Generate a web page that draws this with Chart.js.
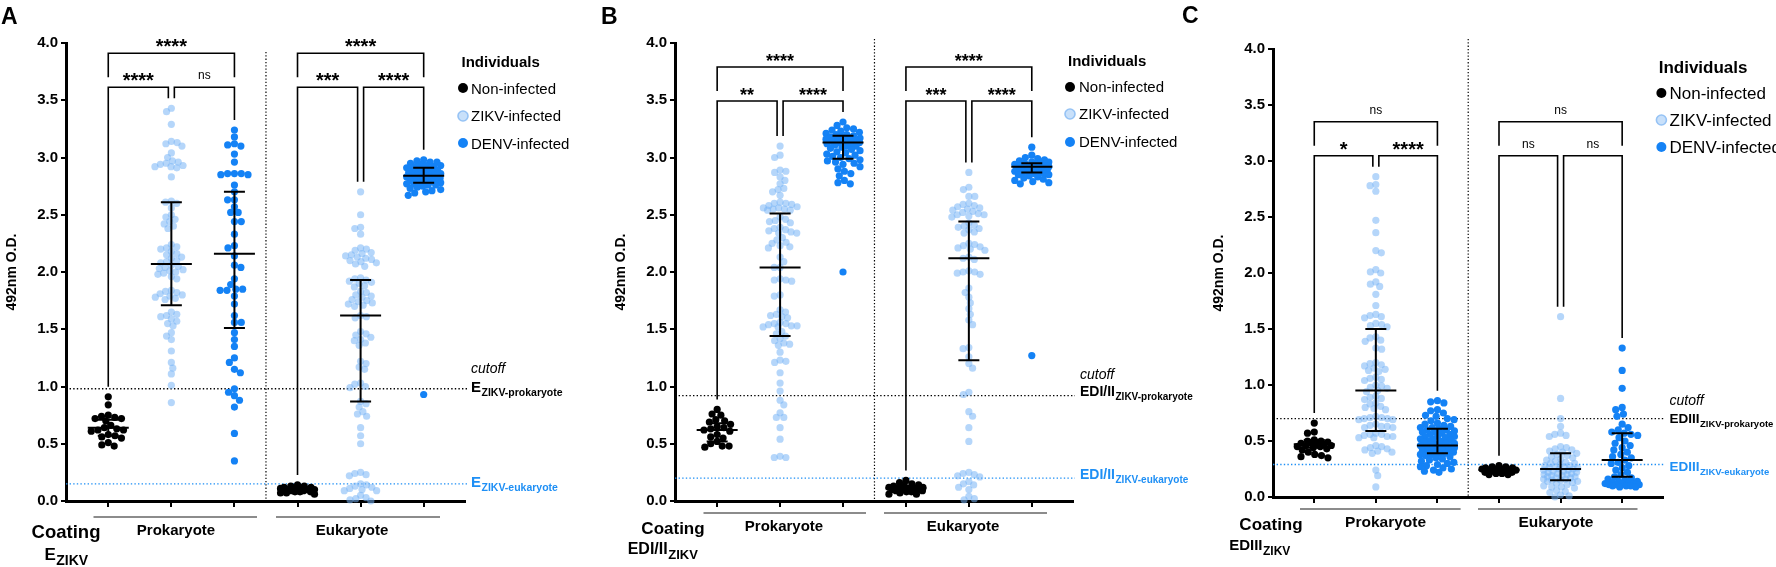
<!DOCTYPE html>
<html><head><meta charset="utf-8">
<script src="https://cdn.jsdelivr.net/npm/chart.js@4.4.1/dist/chart.umd.min.js"></script>
<style>
html,body{margin:0;padding:0;background:#fff;width:1776px;height:567px;overflow:hidden;position:relative}
canvas{position:absolute;top:0}
</style></head><body>
<canvas id="cA" width="600" height="567" style="left:0px"></canvas>
<canvas id="cB" width="610" height="567" style="left:590px"></canvas>
<canvas id="cC" width="600" height="567" style="left:1176px"></canvas>
<script>
// ---------------- DATA ----------------
const groupLabels = ['Non-infected','ZIKV-infected','DENV-infected'];
const coatingLabels = ['Prokaryote','Eukaryote'];
const yTickValues = [0,0.5,1,1.5,2,2.5,3,3.5,4];
const yAxisTitle = '492nm O.D.';

// Panel A (E ZIKV)
const A_prok_non = [0.91,0.84,0.75,0.74,0.73,0.72,0.72,0.70,0.66,0.64,0.63,0.62,0.62,0.61,0.58,0.57,0.56,0.55,0.51,0.49,0.48];
const A_prok_zikv = [3.43,3.40,3.29,3.14,3.13,3.12,3.10,3.04,3.00,2.97,2.96,2.95,2.94,2.93,2.92,2.92,2.91,2.83,
 2.62,2.61,2.60,2.56,2.50,2.48,2.46,2.44,2.42,2.40,2.38,
 2.24,2.22,2.21,2.20,2.18,2.16,2.15,2.13,2.12,2.10,2.09,2.08,2.06,2.05,2.04,2.03,2.02,2.01,2.00,1.99,1.98,1.96,1.94,
 1.84,1.83,1.82,1.81,1.80,1.79,1.78,1.77,1.76,
 1.65,1.63,1.62,1.61,1.59,1.57,1.55,1.53,
 1.47,1.44,1.41,1.31,1.21,1.16,1.11,1.01,0.86];
const A_prok_denv = [3.24,3.18,3.12,3.11,3.10,3.03,2.96,2.86,2.86,2.85,2.86,2.85,2.76,2.70,2.63,2.63,2.57,2.52,2.52,2.44,2.44,2.33,2.23,2.21,2.14,2.06,2.04,1.94,1.89,1.85,1.85,1.84,1.84,1.79,1.72,1.62,1.56,1.56,1.47,1.41,1.35,1.25,1.21,1.15,1.12,0.98,0.95,0.92,0.88,0.82,0.59,0.35];
const A_euk_non = [0.14,0.13,0.13,0.12,0.12,0.11,0.11,0.11,0.10,0.10,0.10,0.10,0.09,0.09,0.09,0.08,0.08,0.08,0.07,0.07,0.06];
const A_euk_zikv = [2.70,2.50,2.39,2.38,2.33,2.21,2.20,2.19,2.17,2.16,2.15,2.14,2.13,2.12,2.11,2.10,2.09,2.08,2.07,2.05,
 1.95,1.94,1.93,1.92,1.91,1.90,1.88,1.87,1.83,1.82,1.80,1.79,1.78,1.76,1.75,1.74,1.73,1.72,1.71,1.70,1.62,1.61,1.60,
 1.48,1.46,1.45,1.43,1.41,1.40,1.38,1.36,1.22,1.20,1.17,1.15,1.03,1.02,1.00,0.99,0.87,0.85,0.82,0.78,0.76,0.74,0.64,0.57,0.50,
 0.25,0.24,0.23,0.22,0.15,0.14,0.13,0.12,0.11,0.10,0.09,0.09,0.05,0.03,0.02,0.01,0.00];
const A_euk_denv = [2.98,2.97,2.96,2.96,2.95,2.94,2.93,2.93,2.92,2.92,2.91,2.91,2.90,2.90,2.89,2.89,2.88,2.88,2.87,2.87,2.86,2.86,2.85,2.85,2.85,2.84,2.84,2.83,2.83,2.82,2.82,2.81,2.81,2.80,2.80,2.79,2.79,2.78,2.78,2.77,2.77,2.76,2.76,2.75,2.74,2.73,2.72,2.71,2.70,2.69,2.67,0.93];
const A_mean  = [0.64,2.07,2.16,0.10,1.62,2.84];
const A_upper = [0.71,2.61,2.70,0.11,1.93,2.91];
const A_lower = [0.57,1.71,1.51,0.09,0.87,2.78];
const A_cutoff = [0.98,0.15];
const A_sig = ['****','****','ns','****','***','****'];

// Panel B (EDI/II ZIKV)
const B_prok_non = [0.80,0.76,0.75,0.71,0.70,0.69,0.67,0.65,0.64,0.63,0.62,0.61,0.58,0.56,0.55,0.52,0.50,0.48,0.48,0.47];
const B_prok_zikv = [3.10,3.02,3.00,2.89,2.88,2.87,2.83,2.80,2.77,2.73,2.72,2.70,2.67,2.61,2.60,2.60,2.59,2.58,2.57,2.56,2.56,2.55,2.55,2.54,2.54,
 2.48,2.46,2.45,2.44,2.43,2.39,2.38,2.37,2.36,2.35,2.34,2.34,2.30,2.28,2.26,2.25,2.23,2.22,2.21,2.13,2.09,2.04,2.04,
 1.94,1.93,1.93,1.92,1.80,1.79,1.67,1.65,1.63,1.62,1.61,1.60,1.56,1.55,1.55,1.54,1.53,1.53,1.52,1.52,1.48,1.46,1.44,1.42,1.40,1.38,1.37,1.36,
 1.30,1.23,1.22,1.21,1.12,1.03,0.96,0.88,0.84,0.77,0.73,0.73,0.64,0.54,0.39,0.38,0.38];
const B_prok_denv = [3.31,3.28,3.26,3.25,3.24,3.23,3.22,3.21,3.20,3.20,3.19,3.18,3.18,3.17,3.16,3.16,3.15,3.15,3.14,3.14,3.13,3.13,3.12,3.12,3.11,3.10,3.10,3.09,3.08,3.07,3.06,3.05,3.04,3.03,3.02,3.01,3.00,2.99,2.98,2.97,2.96,2.95,2.94,2.92,2.90,2.88,2.86,2.84,2.80,2.78,2.77,2.00];
const B_euk_non = [0.18,0.16,0.15,0.14,0.13,0.13,0.12,0.12,0.11,0.11,0.11,0.10,0.10,0.10,0.09,0.09,0.08,0.08,0.07,0.06,0.06];
const B_euk_zikv = [2.87,2.74,2.72,2.66,2.66,2.60,2.59,2.58,2.57,2.56,2.55,2.54,2.53,2.52,2.51,2.50,2.50,2.49,2.48,2.43,2.41,2.40,2.39,2.38,2.37,2.35,2.34,
 2.25,2.24,2.23,2.22,2.21,2.20,2.19,2.13,2.12,2.11,2.01,2.00,2.00,1.99,1.98,1.86,1.82,1.78,1.73,1.68,1.63,1.58,1.54,1.34,1.33,1.26,1.20,1.16,
 0.95,0.93,0.78,0.74,0.64,0.52,0.25,0.24,0.23,0.22,0.21,0.17,0.15,0.14,0.12,0.10,0.04,0.02,0.01];
const B_euk_denv = [3.09,3.02,3.00,2.99,2.98,2.97,2.96,2.96,2.95,2.95,2.94,2.94,2.93,2.93,2.92,2.92,2.92,2.91,2.91,2.91,2.90,2.90,2.90,2.89,2.89,2.88,2.88,2.87,2.87,2.86,2.86,2.85,2.85,2.84,2.83,2.82,2.81,2.80,2.79,2.78,2.77,1.27];
const B_mean  = [0.62,2.04,3.13,0.11,2.12,2.92];
const B_upper = [0.68,2.51,3.19,0.12,2.44,2.95];
const B_lower = [0.52,1.44,2.99,0.10,1.23,2.87];
const B_cutoff = [0.92,0.20];
const B_sig = ['****','**','****','****','***','****'];

// Panel C (EDIII ZIKV)
const C_prok_non = [0.66,0.58,0.57,0.51,0.50,0.50,0.49,0.48,0.48,0.47,0.47,0.46,0.46,0.45,0.45,0.44,0.43,0.42,0.40,0.38,0.37,0.36,0.35];
const C_prok_zikv = [2.86,2.79,2.78,2.73,2.47,2.36,2.20,2.18,2.03,2.01,2.00,1.92,1.90,1.88,1.81,1.71,1.63,1.62,1.61,1.60,1.55,1.54,1.53,1.52,
 1.43,1.42,1.40,1.39,1.33,1.32,1.20,1.19,1.18,1.17,1.15,1.14,1.13,1.12,1.07,1.06,1.05,1.04,1.00,0.99,0.98,0.97,0.95,0.94,
 0.90,0.89,0.88,0.87,0.84,0.83,0.81,0.80,0.79,0.78,0.72,0.71,0.71,0.70,0.70,0.69,0.69,0.65,0.64,0.63,0.63,0.62,0.62,
 0.57,0.56,0.56,0.55,0.54,0.54,0.53,0.53,0.46,0.45,0.44,0.43,0.42,0.41,0.40,0.39,0.24,0.19,0.09];
const C_prok_denv = [0.86,0.85,0.84,0.78,0.77,0.75,0.73,0.72,0.70,0.69,0.68,0.66,0.65,0.64,0.63,0.62,0.62,0.61,0.60,0.60,0.59,0.58,0.58,0.57,0.56,0.56,0.55,0.54,0.54,0.53,0.52,0.52,0.51,0.50,0.50,0.49,0.48,0.48,0.47,0.47,0.46,0.46,0.45,0.45,0.44,0.44,0.43,0.43,0.42,0.42,0.41,0.41,0.40,0.40,0.39,0.39,0.38,0.38,0.37,0.36,0.35,0.34,0.33,0.32,0.31,0.30,0.29,0.28,0.27,0.26,0.25,0.24,0.23,0.22];
const C_euk_non = [0.28,0.27,0.27,0.26,0.26,0.25,0.25,0.25,0.24,0.24,0.24,0.23,0.23,0.23,0.22,0.22,0.21,0.21,0.20,0.20];
const C_euk_zikv = [1.61,0.88,0.70,0.63,0.57,0.56,0.55,0.54,0.45,0.44,0.43,0.42,0.41,0.40,0.39,0.38,0.37,0.36,0.35,0.34,0.33,0.32,0.31,0.30,0.30,0.29,0.28,0.28,0.27,0.27,0.26,0.26,0.25,0.25,0.24,0.24,0.23,0.23,0.22,0.22,0.21,0.21,0.20,0.20,0.19,0.19,0.18,0.18,0.17,0.17,0.16,0.16,0.15,0.15,0.14,0.14,0.13,0.12,0.11,0.10,0.09,0.09,0.08,0.06,0.05,0.04,0.02,0.01,0.00];
const C_euk_denv = [1.33,1.13,0.97,0.80,0.78,0.74,0.72,0.65,0.62,0.60,0.58,0.57,0.56,0.55,0.53,0.50,0.48,0.46,0.44,0.42,0.40,0.38,0.36,0.35,0.33,0.31,0.30,0.28,0.26,0.24,0.22,0.20,0.18,0.17,0.16,0.15,0.14,0.14,0.13,0.13,0.12,0.12,0.12,0.11,0.11,0.11,0.10,0.10,0.10,0.09,0.09];
const C_mean  = [0.47,0.95,0.46,0.24,0.25,0.33];
const C_upper = [0.51,1.50,0.61,0.25,0.39,0.57];
const C_lower = [0.44,0.59,0.39,0.23,0.15,0.18];
const C_cutoff = [0.70,0.29];
const C_sig = ['ns','*','****','ns','ns','ns'];

// ---------------- STYLE / LAYOUT ----------------
const FONT = "'Liberation Sans', Arial, Helvetica, sans-serif";
const SERIES_COLORS = ['#000000','rgba(120,180,245,0.55)','rgb(20,130,245)'];
const SPACING = [0.95,0.82,0.95];
const BLUE_LINE = '#1e8ff5';
const DOT_R = 3.6;

const PANELS = [
 {id:'cA', left:0, width:600, area:{l:66,r:465,t:43,b:501}, sepTop:52, letter:{t:'A',x:1,y:24},
  groups:[A_prok_non,A_prok_zikv,A_prok_denv,A_euk_non,A_euk_zikv,A_euk_denv],
  mean:A_mean, upper:A_upper, lower:A_lower, cutoff:A_cutoff, sig:A_sig,
  legend:{size:15, tx0:461.5, ty0:67, mx:463, my:[88,116,143], tx:471, ty:[94,121,149]},
  cut:{x:471, cy:373, main:'E', size:15, subSize:10.5, blackY:392, blackSub:396, blueY:487, blueSub:491},
  bottom:{lineY:517, lines:[[93.5,257],[276,440]], labCx:[176,352], labY:535, labSize:15, coatCx:66, coatY:538, coatSize:18.5,
          eMain:'E', eSize:17, eSubSize:14, eCx:66, eY:560, eSubY:565},
  starSize:20, nsSize:12},
 {id:'cB', left:590, width:610, area:{l:85,r:483,t:43,b:501}, sepTop:39, letter:{t:'B',x:601,y:24},
  groups:[B_prok_non,B_prok_zikv,B_prok_denv,B_euk_non,B_euk_zikv,B_euk_denv],
  mean:B_mean, upper:B_upper, lower:B_lower, cutoff:B_cutoff, sig:B_sig,
  legend:{size:15, tx0:1068, ty0:66, mx:1070, my:[87,114,142], tx:1079, ty:[92,119,147]},
  cut:{x:1080, cy:379, main:'EDI/II', size:14, subSize:10, blackY:396, blackSub:400, blueY:479, blueSub:483},
  bottom:{lineY:513, lines:[[703.5,866],[884,1047]], labCx:[784,963], labY:531, labSize:15, coatCx:673, coatY:534, coatSize:17,
          eMain:'EDI/II', eSize:16, eSubSize:13, eCx:662.5, eY:554, eSubY:559},
  starSize:18, nsSize:12},
 {id:'cC', left:1176, width:600, area:{l:97,r:486.5,t:49,b:497}, sepTop:39, letter:{t:'C',x:1182,y:23},
  groups:[C_prok_non,C_prok_zikv,C_prok_denv,C_euk_non,C_euk_zikv,C_euk_denv],
  mean:C_mean, upper:C_upper, lower:C_lower, cutoff:C_cutoff, sig:C_sig,
  legend:{size:17, tx0:1658.7, ty0:73, mx:1661.4, my:[93,120,147], tx:1669.5, ty:[99,126,153]},
  cut:{x:1669.5, cy:405, main:'EDIII', size:13.5, subSize:9.5, blackY:423, blackSub:427, blueY:471, blueSub:475},
  bottom:{lineY:509, lines:[[1300,1460.6],[1478,1637.5]], labCx:[1385.6,1556], labY:527, labSize:15.5, coatCx:1271, coatY:530, coatSize:17,
          eMain:'EDIII', eSize:15, eSubSize:12, eCx:1259.5, eY:550, eSubY:555},
  starSize:20, nsSize:12}
];
const PANEL_BY_ID = {};
PANELS.forEach(p=>{PANEL_BY_ID[p.id]=p;});

// ---------------- HELPERS ----------------
function swarm(values, cat, xs, ys, spacing){
  const D = 2*DOT_R*spacing, maxOff = 17;
  const cx = xs.getPixelForValue(cat);
  const sorted = values.slice().sort((a,b)=>b-a);
  const placed = [], out = [];
  let lastSign = 1;
  for (const v of sorted){
    const py = ys.getPixelForValue(v);
    const near = placed.filter(p=>Math.abs(p.y-py) < D);
    const cands = [0];
    near.forEach(p=>{const dx=Math.sqrt(D*D-(p.y-py)*(p.y-py)); cands.push(p.x+dx, p.x-dx);});
    const ok = c => Math.abs(c) <= maxOff && near.every(p=>(p.x-c)*(p.x-c)+(p.y-py)*(p.y-py) >= D*D-1e-6);
    let best = null;
    cands.filter(ok).forEach(c=>{
      if (best===null || Math.abs(c) < Math.abs(best)-1e-6 ||
         (Math.abs(Math.abs(c)-Math.abs(best))<1e-6 && Math.sign(c)===-lastSign)) best = c;
    });
    if (best===null){
      let score=-1;
      for (let c=-maxOff;c<=maxOff+1e-9;c+=0.5){
        let md=Infinity; near.forEach(p=>{md=Math.min(md,Math.hypot(p.x-c,p.y-py));});
        if (md>score+1e-6 || (Math.abs(md-score)<1e-6 && Math.abs(c)<Math.abs(best))){score=md;best=c;}
      }
    }
    if (best!==0) lastSign = Math.sign(best);
    placed.push({x:best,y:py});
    out.push({x:xs.getValueForPixel(cx+best), y:v});
  }
  return out;
}

function subText(ctx, x, y, ySub, main, sub, size, subSize, align){
  ctx.font = `bold ${size}px ${FONT}`;
  const w1 = ctx.measureText(main).width;
  ctx.font = `bold ${subSize}px ${FONT}`;
  const w2 = ctx.measureText(sub).width;
  let x0 = x;
  if (align==='center') x0 = x - (w1+w2)/2;
  ctx.textAlign='left';
  ctx.font = `bold ${size}px ${FONT}`;
  ctx.fillText(main, x0, y);
  ctx.font = `bold ${subSize}px ${FONT}`;
  ctx.fillText(sub, x0+w1+0.5, ySub);
}

function dottedH(ctx, x1, x2, y, color){
  ctx.save(); ctx.strokeStyle=color; ctx.lineWidth=1.4; ctx.setLineDash([1.4,2.2]);
  ctx.beginPath(); ctx.moveTo(x1,y); ctx.lineTo(x2,y); ctx.stroke(); ctx.restore();
}

const panelPlugin = {
  id:'panelDecor',
  beforeDatasetsDraw(chart){
    const P = PANEL_BY_ID[chart.canvas.id]; if (!P) return;
    const ctx = chart.ctx, xs = chart.scales.x, ys = chart.scales.y, a = chart.chartArea;
    const sx = xs.getPixelForValue(2.5);
    ctx.save(); ctx.strokeStyle='#000'; ctx.lineWidth=1.2; ctx.setLineDash([1.3,2]);
    ctx.beginPath(); ctx.moveTo(sx, P.sepTop); ctx.lineTo(sx, a.bottom); ctx.stroke(); ctx.restore();
    dottedH(ctx, a.left, a.right+2, ys.getPixelForValue(P.cutoff[0]), '#000');
    dottedH(ctx, a.left, a.right+2, ys.getPixelForValue(P.cutoff[1]), BLUE_LINE);
  },
  afterDatasetsDraw(chart){
    const P = PANEL_BY_ID[chart.canvas.id]; if (!P) return;
    const ctx = chart.ctx, xs = chart.scales.x, ys = chart.scales.y;
    ctx.save();
    ctx.strokeStyle='#000'; ctx.lineWidth=2; ctx.setLineDash([]);
    for (let i=0;i<6;i++){
      const x = xs.getPixelForValue(i);
      const ym = ys.getPixelForValue(P.mean[i]), yu = ys.getPixelForValue(P.upper[i]), yl = ys.getPixelForValue(P.lower[i]);
      ctx.beginPath();
      ctx.moveTo(x-20.5,ym); ctx.lineTo(x+20.5,ym);
      ctx.moveTo(x,yu); ctx.lineTo(x,yl);
      ctx.moveTo(x-10.5,yu); ctx.lineTo(x+10.5,yu);
      ctx.moveTo(x-10.5,yl); ctx.lineTo(x+10.5,yl);
      ctx.stroke();
    }
    const maxes = P.groups.map(g=>Math.max(...g));
    const gmaxPx = ys.getPixelForValue(Math.max(...maxes));
    const lowY = gmaxPx - 21, topY = lowY - 34;
    const X = i => xs.getPixelForValue(i);
    const leg = i => ys.getPixelForValue(maxes[i]) - 10;
    ctx.lineWidth = 1.6; ctx.lineJoin='miter';
    const labels = [];
    for (let s=0;s<2;s++){
      const c0=3*s, c1=3*s+1, c2=3*s+2;
      ctx.beginPath();
      ctx.moveTo(X(c0), topY+24); ctx.lineTo(X(c0), topY); ctx.lineTo(X(c2), topY); ctx.lineTo(X(c2), topY+24);
      ctx.moveTo(X(c0), leg(c0)); ctx.lineTo(X(c0), lowY); ctx.lineTo(X(c1)-3, lowY); ctx.lineTo(X(c1)-3, leg(c1));
      ctx.moveTo(X(c1)+3, leg(c1)); ctx.lineTo(X(c1)+3, lowY); ctx.lineTo(X(c2), lowY); ctx.lineTo(X(c2), leg(c2));
      ctx.stroke();
      labels.push([P.sig[3*s], X(c1), topY]);
      labels.push([P.sig[3*s+1], (X(c0)+X(c1)-3)/2, lowY]);
      labels.push([P.sig[3*s+2], (X(c1)+3+X(c2))/2, lowY]);
    }
    ctx.fillStyle='#000'; ctx.textAlign='center'; ctx.textBaseline='alphabetic';
    labels.forEach(([t,x,y])=>{
      if (t==='ns'){ ctx.font=`${P.nsSize}px ${FONT}`; ctx.fillText(t,x,y-8); }
      else { ctx.font=`bold ${P.starSize}px ${FONT}`; const m=ctx.measureText(t); ctx.fillText(t,x,y-6-m.actualBoundingBoxDescent); }
    });
    ctx.restore();
  },
  afterDraw(chart){
    const P = PANEL_BY_ID[chart.canvas.id]; if (!P) return;
    const ctx = chart.ctx;
    ctx.save();
    ctx.translate(-P.left, 0);
    ctx.fillStyle='#000'; ctx.textBaseline='alphabetic'; ctx.textAlign='left';
    ctx.font=`bold 23px ${FONT}`; ctx.fillText(P.letter.t, P.letter.x, P.letter.y);
    const L = P.legend;
    ctx.font=`bold ${L.size}px ${FONT}`; ctx.fillText('Individuals', L.tx0, L.ty0);
    groupLabels.forEach((g,i)=>{
      ctx.beginPath(); ctx.arc(L.mx, L.my[i], 5, 0, Math.PI*2);
      if (i===1){ ctx.fillStyle='rgba(200,224,250,1)'; ctx.fill(); ctx.lineWidth=1.6; ctx.strokeStyle='rgba(150,195,245,1)'; ctx.stroke(); }
      else { ctx.fillStyle=SERIES_COLORS[i]; ctx.fill(); }
      ctx.fillStyle='#000'; ctx.font=`${L.size}px ${FONT}`; ctx.fillText(g, L.tx, L.ty[i]);
    });
    const C = P.cut;
    ctx.font=`italic 14px ${FONT}`; ctx.fillStyle='#000'; ctx.fillText('cutoff', C.x, C.cy);
    subText(ctx, C.x, C.blackY, C.blackSub, C.main, 'ZIKV-prokaryote', C.size, C.subSize, 'left');
    ctx.fillStyle=BLUE_LINE;
    subText(ctx, C.x, C.blueY, C.blueSub, C.main, 'ZIKV-eukaryote', C.size, C.subSize, 'left');
    const B = P.bottom;
    ctx.strokeStyle='#666'; ctx.lineWidth=1.6;
    B.lines.forEach(([x1,x2])=>{ctx.beginPath(); ctx.moveTo(x1,B.lineY); ctx.lineTo(x2,B.lineY); ctx.stroke();});
    ctx.fillStyle='#000'; ctx.textAlign='center';
    ctx.font=`bold ${B.labSize}px ${FONT}`;
    coatingLabels.forEach((t,i)=>ctx.fillText(t, B.labCx[i], B.labY));
    ctx.font=`bold ${B.coatSize}px ${FONT}`; ctx.fillText('Coating', B.coatCx, B.coatY);
    subText(ctx, B.eCx, B.eY, B.eSubY, B.eMain, 'ZIKV', B.eSize, B.eSubSize, 'center');
    ctx.restore();
  }
};

function makeChart(P){
  const canvas = document.getElementById(P.id);
  const W = P.width, H = 567, a = P.area, yW = 66, xH = 12;
  const cfg = {
    type:'scatter',
    data:{datasets: groupLabels.map((g,i)=>({
      label:g, data:[], backgroundColor:SERIES_COLORS[i], borderWidth:0, pointBorderWidth:0,
      pointRadius:DOT_R, pointHoverRadius:DOT_R, clip:false
    }))},
    options:{
      responsive:false, animation:false, events:[], devicePixelRatio:1,
      layout:{padding:{left:a.l-yW, right:W-a.r, top:a.t, bottom:H-a.b-xH}},
      plugins:{legend:{display:false}, tooltip:{enabled:false}},
      scales:{
        x:{type:'linear', min:-0.67, max:5.655,
           afterBuildTicks:s=>{s.ticks=[0,1,2,3,4,5].map(v=>({value:v}));},
           afterFit:s=>{s.height=xH;},
           ticks:{display:false},
           grid:{display:true, drawOnChartArea:false, drawTicks:true, tickLength:6, color:'#000', lineWidth:2},
           border:{display:true, color:'#000', width:3}},
        y:{type:'linear', min:0, max:4,
           afterBuildTicks:s=>{s.ticks=yTickValues.map(v=>({value:v}));},
           afterFit:s=>{s.width=yW;},
           ticks:{font:{family:FONT, size:15, weight:'bold'}, color:'#000', padding:3, callback:v=>Number(v).toFixed(1)},
           grid:{display:true, drawOnChartArea:false, drawTicks:true, tickLength:5, color:'#000', lineWidth:2},
           border:{display:true, color:'#000', width:3},
           title:{display:true, text:yAxisTitle, color:'#000', font:{family:FONT, size:14, weight:'bold'}, padding:{top:4,bottom:0}}}
      }
    },
    plugins:[panelPlugin]
  };
  const chart = new Chart(canvas, cfg);
  const xs = chart.scales.x, ys = chart.scales.y;
  chart.data.datasets.forEach((ds,s)=>{
    ds.data = swarm(P.groups[s], s, xs, ys, SPACING[s]).concat(swarm(P.groups[s+3], s+3, xs, ys, SPACING[s]));
  });
  chart.update('none');
  return chart;
}

PANELS.forEach(makeChart);
</script>
</body></html>
